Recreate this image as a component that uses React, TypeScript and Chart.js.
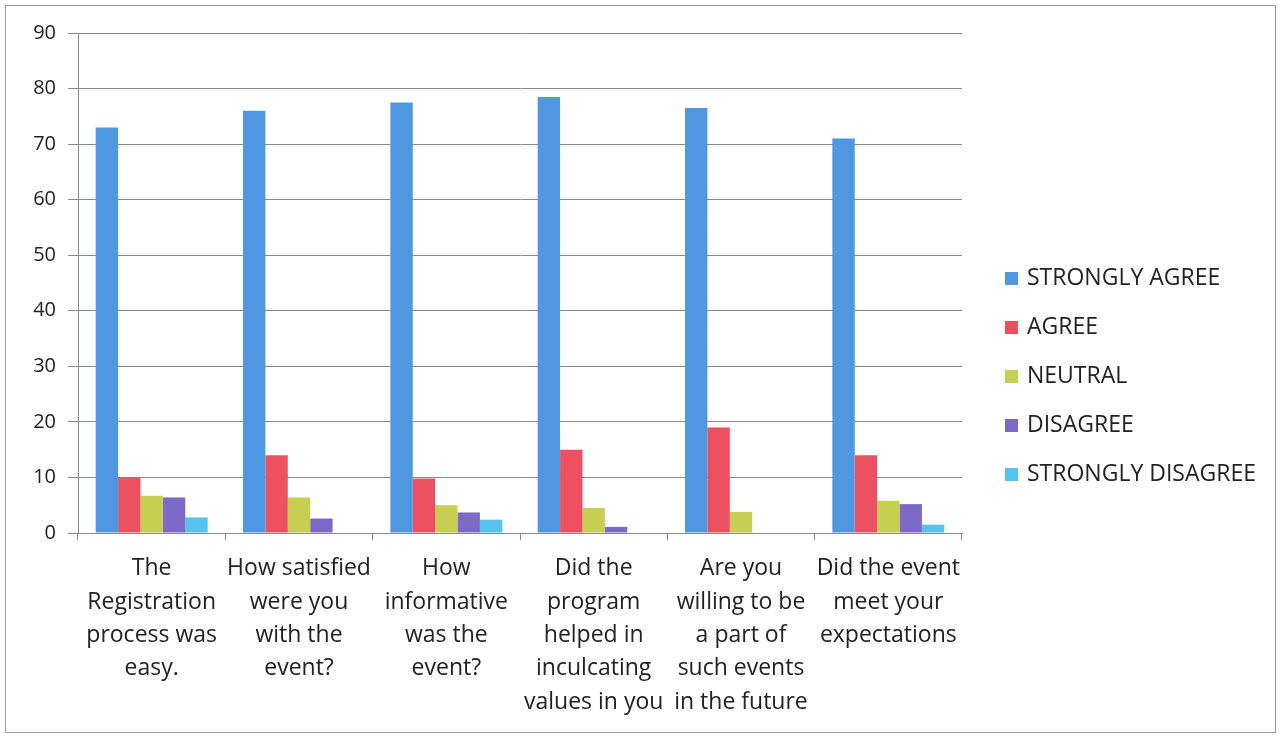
import React, { useEffect, useRef } from "react";
import { Chart, registerables } from "chart.js";

Chart.register(...registerables);

const categories: string[][] = [
  ["The", "Registration", "process was", "easy."],
  ["How satisfied", "were you", "with the", "event?"],
  ["How", "informative", "was the", "event?"],
  ["Did the", "program", "helped in", "inculcating", "values in you"],
  ["Are you", "willing to be", "a part of", "such events", "in the future"],
  ["Did the event", "meet your", "expectations"],
];

const seriesNames = ["STRONGLY AGREE", "AGREE", "NEUTRAL", "DISAGREE", "STRONGLY DISAGREE"];
const stronglyAgree = [73, 76, 77.5, 78.5, 76.5, 71];
const agree = [10, 14, 9.8, 15, 19, 14];
const neutral = [6.7, 6.4, 5, 4.5, 3.8, 5.8];
const disagree = [6.4, 2.6, 3.7, 1.1, 0, 5.2];
const stronglyDisagree = [2.8, 0, 2.4, 0, 0, 1.5];
const seriesColors = ["#4f97e0", "#ec5160", "#c6cf52", "#7d69c8", "#55c3ec"];

const yMax = 90;
const yStep = 10;

const FONT = "'Open Sans', 'Liberation Sans', sans-serif";

const customLegend = {
  id: "customLegend",
  afterDraw(chart: any) {
    const ctx = chart.ctx;
    ctx.save();
    ctx.font = `23px ${FONT}`;
    ctx.textBaseline = "middle";
    ctx.textAlign = "left";
    chart.data.datasets.forEach((ds: any, i: number) => {
      const y = 278 + i * 49;
      ctx.fillStyle = ds.backgroundColor;
      ctx.fillRect(1005, y - 6, 13, 13);
      ctx.fillStyle = "#222";
      ctx.fillText(ds.label, 1027, y);
    });
    ctx.restore();
  },
};

const frame = {
  id: "frame",
  beforeDraw(chart: any) {
    const ctx = chart.ctx;
    ctx.save();
    ctx.fillStyle = "#fff";
    ctx.fillRect(0, 0, chart.width, chart.height);
    ctx.strokeStyle = "#9a9a9a";
    ctx.lineWidth = 1;
    ctx.strokeRect(5.5, 5.5, 1270, 727);
    ctx.restore();
  },
};

export default function App() {
  const ref = useRef<HTMLCanvasElement | null>(null);
  useEffect(() => {
    if (!ref.current) return;
    const values = [stronglyAgree, agree, neutral, disagree, stronglyDisagree];
    const chart = new Chart(ref.current, {
      type: "bar",
      data: {
        labels: categories,
        datasets: seriesNames.map((name, i) => ({
          label: name,
          data: values[i],
          backgroundColor: seriesColors[i],
          borderWidth: 0,
          categoryPercentage: 0.76,
          barPercentage: 1.0,
        })),
      },
      options: {
        responsive: false,
        animation: false,
        layout: { padding: { top: 33, left: 0, right: 320, bottom: 6 } },
        plugins: {
          legend: { display: false },
          tooltip: { enabled: false },
        },
        scales: {
          x: {
            afterFit(scale: any) {
              scale.height = 200;
            },
            grid: {
              display: true,
              drawOnChartArea: false,
              drawTicks: true,
              tickLength: 7,
              color: "#8a8a8a",
            },
            border: { display: true, color: "#8a8a8a" },
            ticks: {
              color: "#222",
              font: { family: FONT, size: 23, lineHeight: 1.45 },
              maxRotation: 0,
              minRotation: 0,
              autoSkip: false,
              padding: 12,
            },
          },
          y: {
            min: 0,
            max: yMax,
            afterFit(scale: any) {
              scale.width = 78;
            },
            grid: {
              color: "#8a8a8a",
              tickLength: 10,
            },
            border: { display: true, color: "#8a8a8a" },
            ticks: {
              stepSize: yStep,
              color: "#222",
              font: { family: FONT, size: 20 },
              padding: 12,
            },
          },
        },
      },
      plugins: [frame, customLegend],
    });
    return () => chart.destroy();
  }, []);
  return (
    <div style={{ position: "fixed", left: 0, top: 0, width: 1282, height: 739, background: "#fff" }}>
      <canvas ref={ref} width={1282} height={739} />
    </div>
  );
}
